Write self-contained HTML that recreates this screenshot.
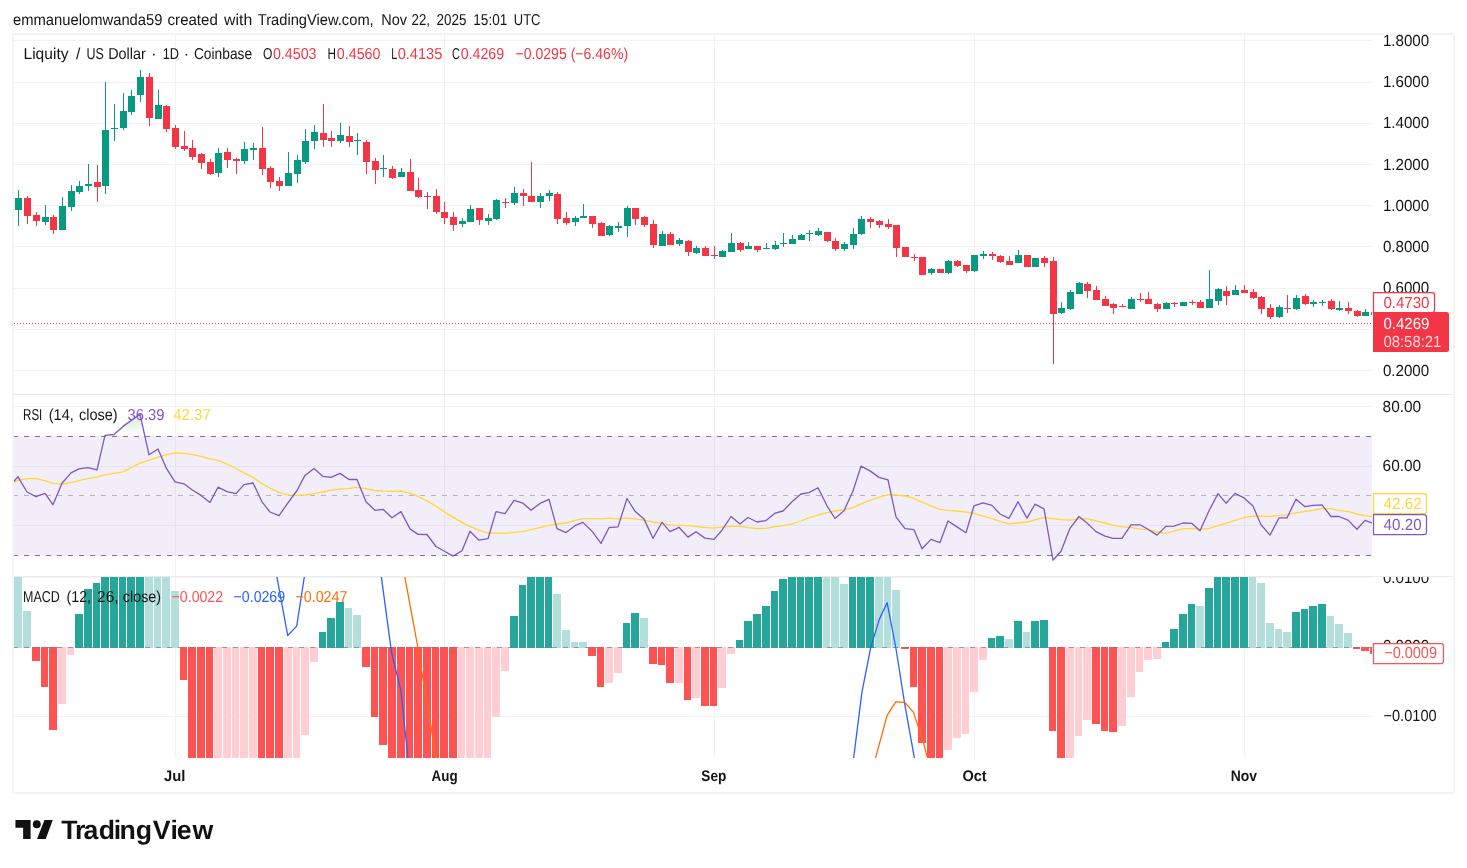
<!DOCTYPE html>
<html><head><meta charset="utf-8"><title>LQTYUSD chart</title>
<style>html,body{margin:0;padding:0;background:#fff}body{width:1467px;height:868px;overflow:hidden;font-family:"Liberation Sans",sans-serif}svg{display:block;position:absolute;left:0;top:0;will-change:transform}text{font-family:"Liberation Sans",sans-serif;text-rendering:geometricPrecision}</style></head><body>
<svg width="1467" height="868" viewBox="0 0 1467 868">
<defs>
<clipPath id="cpMain"><rect x="14" y="34" width="1358" height="360"/></clipPath>
<clipPath id="cpRsi"><rect x="14" y="395" width="1358" height="181"/></clipPath>
<clipPath id="cpMacd"><rect x="14" y="577" width="1358" height="181"/></clipPath>
<clipPath id="cpOB"><rect x="14" y="395" width="1358" height="41"/></clipPath>
<clipPath id="cpAxM"><rect x="1373" y="577" width="81" height="181"/></clipPath>
<linearGradient id="gOB" gradientUnits="userSpaceOnUse" x1="0" y1="346.7" x2="0" y2="436"><stop offset="0" stop-color="#4caf50" stop-opacity="1"/><stop offset="1" stop-color="#4caf50" stop-opacity="0"/></linearGradient>
</defs>
<rect x="0" y="0" width="1467" height="868" fill="#fff"/>
<g shape-rendering="crispEdges" fill="#f2f2f3">
<rect x="175" y="34" width="1" height="724"/>
<rect x="444" y="34" width="1" height="724"/>
<rect x="714" y="34" width="1" height="724"/>
<rect x="974" y="34" width="1" height="724"/>
<rect x="1244" y="34" width="1" height="724"/>
<rect x="14" y="40" width="1358" height="1"/>
<rect x="14" y="82" width="1358" height="1"/>
<rect x="14" y="123" width="1358" height="1"/>
<rect x="14" y="164" width="1358" height="1"/>
<rect x="14" y="205" width="1358" height="1"/>
<rect x="14" y="246" width="1358" height="1"/>
<rect x="14" y="288" width="1358" height="1"/>
<rect x="14" y="329" width="1358" height="1"/>
<rect x="14" y="370" width="1358" height="1"/>
<rect x="14" y="406" width="1358" height="1"/>
<rect x="14" y="466" width="1358" height="1"/>
<rect x="14" y="525" width="1358" height="1"/>
<rect x="14" y="577" width="1358" height="1"/>
<rect x="14" y="716" width="1358" height="1"/>
</g>
<rect x="14" y="436" width="1358" height="120" fill="#7e57c2" fill-opacity="0.1" shape-rendering="crispEdges"/>
<g fill="none" stroke-width="1" shape-rendering="crispEdges">
<line x1="14" y1="436.5" x2="1372" y2="436.5" stroke="#787b86" stroke-dasharray="5 6" stroke-dashoffset="1"/>
<line x1="14" y1="495.5" x2="1372" y2="495.5" stroke="#787b86" stroke-opacity="0.5" stroke-dasharray="5 6" stroke-dashoffset="1"/>
<line x1="14" y1="555.5" x2="1372" y2="555.5" stroke="#787b86" stroke-dasharray="5 6" stroke-dashoffset="1"/>
</g>
<g clip-path="url(#cpOB)"><polygon points="14.0,481.3 18.0,476.8 27.0,492.0 36.0,496.6 45.0,493.4 53.0,504.8 62.0,483.2 71.0,472.9 79.0,468.9 88.0,467.6 97.0,469.9 105.0,435.3 114.0,434.5 123.0,426.4 131.0,420.6 140.0,414.1 149.0,454.8 158.0,449.0 166.0,467.6 175.0,481.9 184.0,483.8 192.0,489.7 201.0,495.4 210.0,502.4 218.0,487.2 227.0,491.7 236.0,493.6 244.0,484.6 253.0,483.0 262.0,501.8 270.0,512.0 279.0,515.6 288.0,502.8 297.0,490.5 305.0,475.4 314.0,468.5 323.0,476.4 331.0,477.4 340.0,473.4 349.0,479.5 357.0,479.5 366.0,501.8 375.0,510.3 383.0,509.3 392.0,517.7 401.0,511.6 410.0,528.9 418.0,534.4 427.0,534.5 436.0,546.5 444.0,551.0 453.0,556.1 462.0,550.8 470.0,531.2 479.0,540.2 488.0,538.7 496.0,511.6 505.0,513.6 514.0,500.3 523.0,503.2 531.0,510.3 540.0,503.4 549.0,499.3 557.0,528.7 566.0,532.6 575.0,525.7 583.0,522.4 592.0,531.2 601.0,543.4 609.0,527.7 618.0,526.9 627.0,498.5 635.0,511.2 644.0,519.1 653.0,538.3 662.0,522.4 670.0,531.6 679.0,527.3 688.0,537.1 696.0,531.8 705.0,538.1 714.0,539.4 722.0,530.2 731.0,516.5 740.0,524.0 748.0,517.5 757.0,522.0 766.0,520.6 775.0,513.2 783.0,511.0 792.0,501.8 801.0,494.0 809.0,492.6 818.0,487.7 827.0,505.8 835.0,518.5 844.0,510.7 853.0,491.1 861.0,466.2 870.0,470.9 879.0,477.4 888.0,479.9 896.0,516.9 905.0,528.7 914.0,529.7 922.0,548.8 931.0,539.4 940.0,542.6 948.0,521.0 957.0,526.9 966.0,532.8 974.0,505.8 983.0,502.8 992.0,505.4 1000.0,514.0 1009.0,518.3 1018.0,501.8 1027.0,518.1 1035.0,504.2 1044.0,508.9 1053.0,560.2 1061.0,551.2 1070.0,528.3 1079.0,516.5 1087.0,523.0 1096.0,531.6 1105.0,536.1 1113.0,538.3 1122.0,538.3 1131.0,524.8 1140.0,524.8 1148.0,529.3 1157.0,535.1 1166.0,526.3 1174.0,526.1 1183.0,523.0 1192.0,523.4 1200.0,530.8 1209.0,510.8 1218.0,493.6 1226.0,503.2 1235.0,493.4 1244.0,497.9 1253.0,506.1 1261.0,524.8 1270.0,535.1 1279.0,517.9 1287.0,517.9 1296.0,499.3 1305.0,506.7 1313.0,505.4 1322.0,504.8 1331.0,516.5 1339.0,516.5 1348.0,520.1 1357.0,529.3 1365.0,520.4 1372.0,523.0 1372,436 14,436" fill="url(#gOB)"/></g>
<g clip-path="url(#cpRsi)" fill="none" stroke-linejoin="round" stroke-linecap="round">
<polyline points="14.0,482.6 18.0,480.3 27.0,478.7 36.0,478.7 45.0,480.7 53.0,483.4 62.0,484.2 71.0,482.6 79.0,480.7 88.0,478.7 97.0,476.8 105.0,474.8 114.0,473.4 123.0,471.9 131.0,467.6 140.0,463.1 149.0,460.3 158.0,457.2 166.0,454.8 175.0,452.9 184.0,453.3 192.0,454.4 201.0,456.4 210.0,458.8 218.0,460.3 227.0,464.2 236.0,468.5 244.0,472.9 253.0,477.4 262.0,483.8 270.0,488.1 279.0,492.4 288.0,494.8 297.0,495.4 305.0,495.0 314.0,493.6 323.0,492.0 331.0,490.1 340.0,489.1 349.0,488.3 357.0,487.3 366.0,488.7 375.0,490.5 383.0,491.1 392.0,491.3 401.0,491.1 410.0,493.2 418.0,496.4 427.0,500.9 436.0,506.3 444.0,511.6 453.0,517.1 462.0,522.4 470.0,526.3 479.0,530.2 488.0,533.0 496.0,533.2 505.0,533.4 514.0,532.4 523.0,531.6 531.0,529.7 540.0,527.7 549.0,525.3 557.0,524.0 566.0,522.8 575.0,520.4 583.0,518.7 592.0,518.7 601.0,518.9 609.0,518.1 618.0,518.9 627.0,518.1 635.0,518.9 644.0,520.1 653.0,522.0 662.0,523.2 670.0,525.1 679.0,525.3 688.0,525.7 696.0,526.3 705.0,527.5 714.0,528.1 722.0,527.1 731.0,526.3 740.0,526.3 748.0,527.7 757.0,528.5 766.0,528.3 775.0,526.7 783.0,525.7 792.0,523.8 801.0,521.0 809.0,517.9 818.0,515.0 827.0,512.6 835.0,511.0 844.0,509.7 853.0,507.7 861.0,503.8 870.0,500.3 879.0,497.3 888.0,494.6 896.0,494.8 905.0,496.0 914.0,498.3 922.0,502.2 931.0,505.8 940.0,509.3 948.0,510.3 957.0,511.0 966.0,512.2 974.0,513.4 983.0,516.1 992.0,518.7 1000.0,521.4 1009.0,523.8 1018.0,523.0 1027.0,522.0 1035.0,519.9 1044.0,517.5 1053.0,518.7 1061.0,519.7 1070.0,520.1 1079.0,518.9 1087.0,518.7 1096.0,520.8 1105.0,523.0 1113.0,525.1 1122.0,526.9 1131.0,527.3 1140.0,529.1 1148.0,529.7 1157.0,532.0 1166.0,533.4 1174.0,531.0 1183.0,528.9 1192.0,528.3 1200.0,529.3 1209.0,528.5 1218.0,525.7 1226.0,523.4 1235.0,520.4 1244.0,517.5 1253.0,516.1 1261.0,516.1 1270.0,516.5 1279.0,515.4 1287.0,514.8 1296.0,512.8 1305.0,511.4 1313.0,510.3 1322.0,508.3 1331.0,508.7 1339.0,510.3 1348.0,511.6 1357.0,514.0 1365.0,515.7 1372.0,516.7" stroke="#fdd835" stroke-width="1.3"/>
<polyline points="14.0,481.3 18.0,476.8 27.0,492.0 36.0,496.6 45.0,493.4 53.0,504.8 62.0,483.2 71.0,472.9 79.0,468.9 88.0,467.6 97.0,469.9 105.0,435.3 114.0,434.5 123.0,426.4 131.0,420.6 140.0,414.1 149.0,454.8 158.0,449.0 166.0,467.6 175.0,481.9 184.0,483.8 192.0,489.7 201.0,495.4 210.0,502.4 218.0,487.2 227.0,491.7 236.0,493.6 244.0,484.6 253.0,483.0 262.0,501.8 270.0,512.0 279.0,515.6 288.0,502.8 297.0,490.5 305.0,475.4 314.0,468.5 323.0,476.4 331.0,477.4 340.0,473.4 349.0,479.5 357.0,479.5 366.0,501.8 375.0,510.3 383.0,509.3 392.0,517.7 401.0,511.6 410.0,528.9 418.0,534.4 427.0,534.5 436.0,546.5 444.0,551.0 453.0,556.1 462.0,550.8 470.0,531.2 479.0,540.2 488.0,538.7 496.0,511.6 505.0,513.6 514.0,500.3 523.0,503.2 531.0,510.3 540.0,503.4 549.0,499.3 557.0,528.7 566.0,532.6 575.0,525.7 583.0,522.4 592.0,531.2 601.0,543.4 609.0,527.7 618.0,526.9 627.0,498.5 635.0,511.2 644.0,519.1 653.0,538.3 662.0,522.4 670.0,531.6 679.0,527.3 688.0,537.1 696.0,531.8 705.0,538.1 714.0,539.4 722.0,530.2 731.0,516.5 740.0,524.0 748.0,517.5 757.0,522.0 766.0,520.6 775.0,513.2 783.0,511.0 792.0,501.8 801.0,494.0 809.0,492.6 818.0,487.7 827.0,505.8 835.0,518.5 844.0,510.7 853.0,491.1 861.0,466.2 870.0,470.9 879.0,477.4 888.0,479.9 896.0,516.9 905.0,528.7 914.0,529.7 922.0,548.8 931.0,539.4 940.0,542.6 948.0,521.0 957.0,526.9 966.0,532.8 974.0,505.8 983.0,502.8 992.0,505.4 1000.0,514.0 1009.0,518.3 1018.0,501.8 1027.0,518.1 1035.0,504.2 1044.0,508.9 1053.0,560.2 1061.0,551.2 1070.0,528.3 1079.0,516.5 1087.0,523.0 1096.0,531.6 1105.0,536.1 1113.0,538.3 1122.0,538.3 1131.0,524.8 1140.0,524.8 1148.0,529.3 1157.0,535.1 1166.0,526.3 1174.0,526.1 1183.0,523.0 1192.0,523.4 1200.0,530.8 1209.0,510.8 1218.0,493.6 1226.0,503.2 1235.0,493.4 1244.0,497.9 1253.0,506.1 1261.0,524.8 1270.0,535.1 1279.0,517.9 1287.0,517.9 1296.0,499.3 1305.0,506.7 1313.0,505.4 1322.0,504.8 1331.0,516.5 1339.0,516.5 1348.0,520.1 1357.0,529.3 1365.0,520.4 1372.0,523.0" stroke="#7e57c2" stroke-width="1.3"/>
</g>
<g clip-path="url(#cpMacd)">
<g shape-rendering="crispEdges">
<rect x="14" y="576" width="8" height="72" fill="#b2dfdb"/>
<rect x="23" y="611" width="8" height="37" fill="#b2dfdb"/>
<rect x="32" y="647" width="8" height="14" fill="#ff5252"/>
<rect x="41" y="647" width="7" height="40" fill="#ff5252"/>
<rect x="49" y="647" width="8" height="83" fill="#ff5252"/>
<rect x="58" y="647" width="8" height="57" fill="#ffcdd2"/>
<rect x="67" y="647" width="7" height="8" fill="#ffcdd2"/>
<rect x="75" y="614" width="8" height="34" fill="#26a69a"/>
<rect x="84" y="589" width="8" height="59" fill="#26a69a"/>
<rect x="93" y="583" width="7" height="65" fill="#26a69a"/>
<rect x="101" y="576" width="8" height="72" fill="#26a69a"/>
<rect x="110" y="576" width="8" height="72" fill="#26a69a"/>
<rect x="119" y="576" width="7" height="72" fill="#26a69a"/>
<rect x="127" y="576" width="8" height="72" fill="#26a69a"/>
<rect x="136" y="576" width="8" height="72" fill="#26a69a"/>
<rect x="145" y="576" width="8" height="72" fill="#b2dfdb"/>
<rect x="154" y="576" width="7" height="72" fill="#b2dfdb"/>
<rect x="162" y="576" width="8" height="72" fill="#b2dfdb"/>
<rect x="171" y="591" width="8" height="57" fill="#b2dfdb"/>
<rect x="180" y="647" width="7" height="33" fill="#ff5252"/>
<rect x="188" y="647" width="8" height="111" fill="#ff5252"/>
<rect x="197" y="647" width="8" height="111" fill="#ff5252"/>
<rect x="206" y="647" width="7" height="111" fill="#ff5252"/>
<rect x="214" y="647" width="8" height="111" fill="#ffcdd2"/>
<rect x="223" y="647" width="8" height="111" fill="#ffcdd2"/>
<rect x="232" y="647" width="7" height="111" fill="#ffcdd2"/>
<rect x="240" y="647" width="8" height="111" fill="#ffcdd2"/>
<rect x="249" y="647" width="8" height="111" fill="#ffcdd2"/>
<rect x="258" y="647" width="7" height="111" fill="#ff5252"/>
<rect x="266" y="647" width="8" height="111" fill="#ff5252"/>
<rect x="275" y="647" width="8" height="111" fill="#ff5252"/>
<rect x="284" y="647" width="8" height="111" fill="#ffcdd2"/>
<rect x="293" y="647" width="7" height="111" fill="#ffcdd2"/>
<rect x="301" y="647" width="8" height="88" fill="#ffcdd2"/>
<rect x="310" y="647" width="8" height="15" fill="#ffcdd2"/>
<rect x="319" y="632" width="7" height="16" fill="#26a69a"/>
<rect x="327" y="618" width="8" height="30" fill="#26a69a"/>
<rect x="336" y="602" width="8" height="46" fill="#26a69a"/>
<rect x="345" y="608" width="7" height="40" fill="#b2dfdb"/>
<rect x="353" y="615" width="8" height="33" fill="#b2dfdb"/>
<rect x="362" y="647" width="8" height="20" fill="#ff5252"/>
<rect x="371" y="647" width="7" height="70" fill="#ff5252"/>
<rect x="379" y="647" width="8" height="98" fill="#ff5252"/>
<rect x="388" y="647" width="8" height="111" fill="#ff5252"/>
<rect x="397" y="647" width="8" height="111" fill="#ff5252"/>
<rect x="406" y="647" width="7" height="111" fill="#ff5252"/>
<rect x="414" y="647" width="8" height="111" fill="#ff5252"/>
<rect x="423" y="647" width="8" height="111" fill="#ff5252"/>
<rect x="432" y="647" width="7" height="111" fill="#ff5252"/>
<rect x="440" y="647" width="8" height="111" fill="#ff5252"/>
<rect x="449" y="647" width="8" height="111" fill="#ff5252"/>
<rect x="458" y="647" width="7" height="111" fill="#ffcdd2"/>
<rect x="466" y="647" width="8" height="111" fill="#ffcdd2"/>
<rect x="475" y="647" width="8" height="111" fill="#ffcdd2"/>
<rect x="484" y="647" width="7" height="111" fill="#ffcdd2"/>
<rect x="492" y="647" width="8" height="70" fill="#ffcdd2"/>
<rect x="501" y="647" width="8" height="24" fill="#ffcdd2"/>
<rect x="510" y="616" width="8" height="32" fill="#26a69a"/>
<rect x="519" y="585" width="7" height="63" fill="#26a69a"/>
<rect x="527" y="576" width="8" height="72" fill="#26a69a"/>
<rect x="536" y="576" width="8" height="72" fill="#26a69a"/>
<rect x="545" y="576" width="7" height="72" fill="#26a69a"/>
<rect x="553" y="594" width="8" height="54" fill="#b2dfdb"/>
<rect x="562" y="630" width="8" height="18" fill="#b2dfdb"/>
<rect x="571" y="642" width="7" height="6" fill="#b2dfdb"/>
<rect x="579" y="642" width="8" height="6" fill="#b2dfdb"/>
<rect x="588" y="647" width="8" height="9" fill="#ff5252"/>
<rect x="597" y="647" width="7" height="40" fill="#ff5252"/>
<rect x="605" y="647" width="8" height="36" fill="#ffcdd2"/>
<rect x="614" y="647" width="8" height="26" fill="#ffcdd2"/>
<rect x="623" y="623" width="7" height="25" fill="#26a69a"/>
<rect x="631" y="613" width="8" height="35" fill="#26a69a"/>
<rect x="640" y="618" width="8" height="30" fill="#b2dfdb"/>
<rect x="649" y="647" width="8" height="17" fill="#ff5252"/>
<rect x="658" y="647" width="7" height="18" fill="#ff5252"/>
<rect x="666" y="647" width="8" height="36" fill="#ff5252"/>
<rect x="675" y="647" width="8" height="36" fill="#ffcdd2"/>
<rect x="684" y="647" width="7" height="53" fill="#ff5252"/>
<rect x="692" y="647" width="8" height="51" fill="#ffcdd2"/>
<rect x="701" y="647" width="8" height="59" fill="#ff5252"/>
<rect x="710" y="647" width="7" height="59" fill="#ff5252"/>
<rect x="718" y="647" width="8" height="41" fill="#ffcdd2"/>
<rect x="727" y="647" width="8" height="7" fill="#ffcdd2"/>
<rect x="736" y="640" width="7" height="8" fill="#26a69a"/>
<rect x="744" y="621" width="8" height="27" fill="#26a69a"/>
<rect x="753" y="614" width="8" height="34" fill="#26a69a"/>
<rect x="762" y="606" width="8" height="42" fill="#26a69a"/>
<rect x="771" y="591" width="7" height="57" fill="#26a69a"/>
<rect x="779" y="579" width="8" height="69" fill="#26a69a"/>
<rect x="788" y="576" width="8" height="72" fill="#26a69a"/>
<rect x="797" y="576" width="7" height="72" fill="#26a69a"/>
<rect x="805" y="576" width="8" height="72" fill="#26a69a"/>
<rect x="814" y="576" width="8" height="72" fill="#26a69a"/>
<rect x="823" y="576" width="7" height="72" fill="#b2dfdb"/>
<rect x="831" y="576" width="8" height="72" fill="#b2dfdb"/>
<rect x="840" y="584" width="8" height="64" fill="#b2dfdb"/>
<rect x="849" y="576" width="7" height="72" fill="#26a69a"/>
<rect x="857" y="576" width="8" height="72" fill="#26a69a"/>
<rect x="866" y="576" width="8" height="72" fill="#26a69a"/>
<rect x="875" y="576" width="8" height="72" fill="#b2dfdb"/>
<rect x="884" y="576" width="7" height="72" fill="#b2dfdb"/>
<rect x="892" y="590" width="8" height="58" fill="#b2dfdb"/>
<rect x="901" y="647" width="8" height="2" fill="#ff5252"/>
<rect x="910" y="647" width="7" height="40" fill="#ff5252"/>
<rect x="918" y="647" width="8" height="96" fill="#ff5252"/>
<rect x="927" y="647" width="8" height="111" fill="#ff5252"/>
<rect x="936" y="647" width="7" height="111" fill="#ff5252"/>
<rect x="944" y="647" width="8" height="103" fill="#ffcdd2"/>
<rect x="953" y="647" width="8" height="91" fill="#ffcdd2"/>
<rect x="962" y="647" width="7" height="87" fill="#ffcdd2"/>
<rect x="970" y="647" width="8" height="45" fill="#ffcdd2"/>
<rect x="979" y="647" width="8" height="13" fill="#ffcdd2"/>
<rect x="988" y="638" width="7" height="10" fill="#26a69a"/>
<rect x="996" y="636" width="8" height="12" fill="#26a69a"/>
<rect x="1005" y="639" width="8" height="9" fill="#b2dfdb"/>
<rect x="1014" y="621" width="8" height="27" fill="#26a69a"/>
<rect x="1023" y="632" width="7" height="16" fill="#b2dfdb"/>
<rect x="1031" y="621" width="8" height="27" fill="#26a69a"/>
<rect x="1040" y="620" width="8" height="28" fill="#26a69a"/>
<rect x="1049" y="647" width="7" height="84" fill="#ff5252"/>
<rect x="1057" y="647" width="8" height="111" fill="#ff5252"/>
<rect x="1066" y="647" width="8" height="111" fill="#ffcdd2"/>
<rect x="1075" y="647" width="7" height="89" fill="#ffcdd2"/>
<rect x="1083" y="647" width="8" height="73" fill="#ffcdd2"/>
<rect x="1092" y="647" width="8" height="77" fill="#ff5252"/>
<rect x="1101" y="647" width="7" height="84" fill="#ff5252"/>
<rect x="1109" y="647" width="8" height="85" fill="#ff5252"/>
<rect x="1118" y="647" width="8" height="79" fill="#ffcdd2"/>
<rect x="1127" y="647" width="8" height="50" fill="#ffcdd2"/>
<rect x="1136" y="647" width="7" height="25" fill="#ffcdd2"/>
<rect x="1144" y="647" width="8" height="13" fill="#ffcdd2"/>
<rect x="1153" y="647" width="8" height="12" fill="#ffcdd2"/>
<rect x="1162" y="642" width="7" height="6" fill="#26a69a"/>
<rect x="1170" y="629" width="8" height="19" fill="#26a69a"/>
<rect x="1179" y="614" width="8" height="34" fill="#26a69a"/>
<rect x="1188" y="604" width="7" height="44" fill="#26a69a"/>
<rect x="1196" y="606" width="8" height="42" fill="#b2dfdb"/>
<rect x="1205" y="588" width="8" height="60" fill="#26a69a"/>
<rect x="1214" y="576" width="7" height="72" fill="#26a69a"/>
<rect x="1222" y="576" width="8" height="72" fill="#26a69a"/>
<rect x="1231" y="576" width="8" height="72" fill="#26a69a"/>
<rect x="1240" y="576" width="8" height="72" fill="#26a69a"/>
<rect x="1249" y="576" width="7" height="72" fill="#b2dfdb"/>
<rect x="1257" y="583" width="8" height="65" fill="#b2dfdb"/>
<rect x="1266" y="623" width="8" height="25" fill="#b2dfdb"/>
<rect x="1275" y="629" width="7" height="19" fill="#b2dfdb"/>
<rect x="1283" y="632" width="8" height="16" fill="#b2dfdb"/>
<rect x="1292" y="612" width="8" height="36" fill="#26a69a"/>
<rect x="1301" y="609" width="7" height="39" fill="#26a69a"/>
<rect x="1309" y="606" width="8" height="42" fill="#26a69a"/>
<rect x="1318" y="604" width="8" height="44" fill="#26a69a"/>
<rect x="1327" y="616" width="7" height="32" fill="#b2dfdb"/>
<rect x="1335" y="624" width="8" height="24" fill="#b2dfdb"/>
<rect x="1344" y="633" width="8" height="15" fill="#b2dfdb"/>
<rect x="1353" y="647" width="7" height="2" fill="#ff5252"/>
<rect x="1361" y="647" width="8" height="4" fill="#ff5252"/>
<rect x="1370" y="647" width="8" height="7" fill="#ff5252"/>
<line x1="14" y1="647.5" x2="1372" y2="647.5" stroke="#787b86" stroke-opacity="0.7" stroke-width="1" stroke-dasharray="5 6" stroke-dashoffset="1"/>
</g>
<g fill="none" stroke-width="1.3" stroke-linejoin="round">
<polyline points="270.7,529.3 276.8,576.4 287.7,635.5 296.7,626.1 304.4,576.4 305.5,568.7" stroke="#2962ff"/>
<polyline points="375.0,529.1 381.3,576.4 391.6,653.0 400.8,690.2 408.0,758.1 409.8,774.5" stroke="#2962ff"/>
<polyline points="852.0,771.3 853.6,758.1 861.9,692.4 870.7,647.5 879.4,619.1 887.1,602.7 895.8,647.5 904.6,703.4 914.4,758.1 916.6,770.2" stroke="#2962ff"/>
<polyline points="402.6,564.3 404.7,576.4 417.9,647.5 422.3,674.9 431.5,729.7 435.8,758.1 437.6,769.1" stroke="#ff6d00"/>
<polyline points="872.8,768.0 875.5,758.1 887.1,715.4 895.8,701.8 904.6,702.3 913.4,712.1 922.8,740.6 927.6,758.1 930.2,769.1" stroke="#ff6d00"/>
</g></g>
<g clip-path="url(#cpMain)" shape-rendering="crispEdges">
<rect x="18" y="190" width="1" height="36" fill="#089981"/>
<rect x="15" y="198" width="7" height="12" fill="#089981"/>
<rect x="27" y="196" width="1" height="28" fill="#f23645"/>
<rect x="24" y="198" width="7" height="18" fill="#f23645"/>
<rect x="36" y="212" width="1" height="14" fill="#f23645"/>
<rect x="33" y="215" width="7" height="6" fill="#f23645"/>
<rect x="45" y="205" width="1" height="20" fill="#089981"/>
<rect x="42" y="217" width="7" height="5" fill="#089981"/>
<rect x="53" y="215" width="1" height="19" fill="#f23645"/>
<rect x="50" y="217" width="7" height="13" fill="#f23645"/>
<rect x="62" y="197" width="1" height="33" fill="#089981"/>
<rect x="59" y="206" width="7" height="24" fill="#089981"/>
<rect x="71" y="185" width="1" height="26" fill="#089981"/>
<rect x="68" y="191" width="7" height="16" fill="#089981"/>
<rect x="79" y="181" width="1" height="13" fill="#089981"/>
<rect x="76" y="186" width="7" height="6" fill="#089981"/>
<rect x="88" y="164" width="1" height="27" fill="#089981"/>
<rect x="85" y="184" width="7" height="2" fill="#089981"/>
<rect x="97" y="165" width="1" height="37" fill="#f23645"/>
<rect x="94" y="182" width="7" height="5" fill="#f23645"/>
<rect x="105" y="82" width="1" height="112" fill="#089981"/>
<rect x="102" y="130" width="7" height="56" fill="#089981"/>
<rect x="114" y="104" width="1" height="37" fill="#089981"/>
<rect x="111" y="128" width="7" height="1" fill="#089981"/>
<rect x="123" y="93" width="1" height="37" fill="#089981"/>
<rect x="120" y="111" width="7" height="17" fill="#089981"/>
<rect x="131" y="90" width="1" height="25" fill="#089981"/>
<rect x="128" y="96" width="7" height="16" fill="#089981"/>
<rect x="140" y="70" width="1" height="32" fill="#089981"/>
<rect x="137" y="77" width="7" height="18" fill="#089981"/>
<rect x="149" y="73" width="1" height="53" fill="#f23645"/>
<rect x="146" y="77" width="7" height="41" fill="#f23645"/>
<rect x="158" y="90" width="1" height="29" fill="#089981"/>
<rect x="155" y="105" width="7" height="14" fill="#089981"/>
<rect x="166" y="105" width="1" height="27" fill="#f23645"/>
<rect x="163" y="106" width="7" height="23" fill="#f23645"/>
<rect x="175" y="125" width="1" height="24" fill="#f23645"/>
<rect x="172" y="128" width="7" height="19" fill="#f23645"/>
<rect x="184" y="131" width="1" height="20" fill="#f23645"/>
<rect x="181" y="146" width="7" height="3" fill="#f23645"/>
<rect x="192" y="140" width="1" height="20" fill="#f23645"/>
<rect x="189" y="148" width="7" height="9" fill="#f23645"/>
<rect x="201" y="153" width="1" height="16" fill="#f23645"/>
<rect x="198" y="154" width="7" height="9" fill="#f23645"/>
<rect x="210" y="159" width="1" height="16" fill="#f23645"/>
<rect x="207" y="162" width="7" height="12" fill="#f23645"/>
<rect x="218" y="148" width="1" height="29" fill="#089981"/>
<rect x="215" y="153" width="7" height="20" fill="#089981"/>
<rect x="227" y="148" width="1" height="20" fill="#f23645"/>
<rect x="224" y="152" width="7" height="8" fill="#f23645"/>
<rect x="236" y="158" width="1" height="16" fill="#f23645"/>
<rect x="233" y="159" width="7" height="2" fill="#f23645"/>
<rect x="244" y="142" width="1" height="22" fill="#089981"/>
<rect x="241" y="149" width="7" height="12" fill="#089981"/>
<rect x="253" y="143" width="1" height="17" fill="#089981"/>
<rect x="250" y="148" width="7" height="2" fill="#089981"/>
<rect x="262" y="127" width="1" height="48" fill="#f23645"/>
<rect x="259" y="148" width="7" height="21" fill="#f23645"/>
<rect x="270" y="166" width="1" height="22" fill="#f23645"/>
<rect x="267" y="168" width="7" height="14" fill="#f23645"/>
<rect x="279" y="177" width="1" height="14" fill="#f23645"/>
<rect x="276" y="181" width="7" height="5" fill="#f23645"/>
<rect x="288" y="152" width="1" height="34" fill="#089981"/>
<rect x="285" y="173" width="7" height="13" fill="#089981"/>
<rect x="297" y="155" width="1" height="28" fill="#089981"/>
<rect x="294" y="160" width="7" height="14" fill="#089981"/>
<rect x="305" y="129" width="1" height="35" fill="#089981"/>
<rect x="302" y="141" width="7" height="21" fill="#089981"/>
<rect x="314" y="125" width="1" height="24" fill="#089981"/>
<rect x="311" y="132" width="7" height="9" fill="#089981"/>
<rect x="323" y="104" width="1" height="43" fill="#f23645"/>
<rect x="320" y="133" width="7" height="7" fill="#f23645"/>
<rect x="331" y="131" width="1" height="16" fill="#f23645"/>
<rect x="328" y="138" width="7" height="3" fill="#f23645"/>
<rect x="340" y="123" width="1" height="20" fill="#089981"/>
<rect x="337" y="135" width="7" height="6" fill="#089981"/>
<rect x="349" y="126" width="1" height="21" fill="#f23645"/>
<rect x="346" y="136" width="7" height="6" fill="#f23645"/>
<rect x="357" y="133" width="1" height="22" fill="#089981"/>
<rect x="354" y="140" width="7" height="1" fill="#089981"/>
<rect x="366" y="140" width="1" height="34" fill="#f23645"/>
<rect x="363" y="142" width="7" height="20" fill="#f23645"/>
<rect x="375" y="158" width="1" height="26" fill="#f23645"/>
<rect x="372" y="161" width="7" height="9" fill="#f23645"/>
<rect x="383" y="155" width="1" height="22" fill="#089981"/>
<rect x="380" y="168" width="7" height="1" fill="#089981"/>
<rect x="392" y="166" width="1" height="13" fill="#f23645"/>
<rect x="389" y="169" width="7" height="9" fill="#f23645"/>
<rect x="401" y="168" width="1" height="9" fill="#089981"/>
<rect x="398" y="172" width="7" height="5" fill="#089981"/>
<rect x="410" y="159" width="1" height="32" fill="#f23645"/>
<rect x="407" y="172" width="7" height="19" fill="#f23645"/>
<rect x="418" y="178" width="1" height="20" fill="#f23645"/>
<rect x="415" y="190" width="7" height="7" fill="#f23645"/>
<rect x="427" y="192" width="1" height="17" fill="#f23645"/>
<rect x="424" y="196" width="7" height="1" fill="#f23645"/>
<rect x="436" y="189" width="1" height="25" fill="#f23645"/>
<rect x="433" y="196" width="7" height="16" fill="#f23645"/>
<rect x="444" y="202" width="1" height="22" fill="#f23645"/>
<rect x="441" y="212" width="7" height="6" fill="#f23645"/>
<rect x="453" y="212" width="1" height="19" fill="#f23645"/>
<rect x="450" y="217" width="7" height="8" fill="#f23645"/>
<rect x="462" y="218" width="1" height="9" fill="#089981"/>
<rect x="459" y="221" width="7" height="3" fill="#089981"/>
<rect x="470" y="205" width="1" height="17" fill="#089981"/>
<rect x="467" y="209" width="7" height="13" fill="#089981"/>
<rect x="479" y="208" width="1" height="17" fill="#f23645"/>
<rect x="476" y="208" width="7" height="12" fill="#f23645"/>
<rect x="488" y="214" width="1" height="11" fill="#089981"/>
<rect x="485" y="218" width="7" height="3" fill="#089981"/>
<rect x="496" y="199" width="1" height="21" fill="#089981"/>
<rect x="493" y="200" width="7" height="19" fill="#089981"/>
<rect x="505" y="198" width="1" height="10" fill="#f23645"/>
<rect x="502" y="202" width="7" height="1" fill="#f23645"/>
<rect x="514" y="187" width="1" height="18" fill="#089981"/>
<rect x="511" y="193" width="7" height="10" fill="#089981"/>
<rect x="523" y="189" width="1" height="17" fill="#f23645"/>
<rect x="520" y="193" width="7" height="3" fill="#f23645"/>
<rect x="531" y="162" width="1" height="40" fill="#f23645"/>
<rect x="528" y="196" width="7" height="6" fill="#f23645"/>
<rect x="540" y="193" width="1" height="15" fill="#089981"/>
<rect x="537" y="196" width="7" height="6" fill="#089981"/>
<rect x="549" y="190" width="1" height="11" fill="#089981"/>
<rect x="546" y="193" width="7" height="3" fill="#089981"/>
<rect x="557" y="192" width="1" height="32" fill="#f23645"/>
<rect x="554" y="194" width="7" height="25" fill="#f23645"/>
<rect x="566" y="212" width="1" height="13" fill="#f23645"/>
<rect x="563" y="218" width="7" height="5" fill="#f23645"/>
<rect x="575" y="216" width="1" height="10" fill="#089981"/>
<rect x="572" y="218" width="7" height="4" fill="#089981"/>
<rect x="583" y="204" width="1" height="14" fill="#089981"/>
<rect x="580" y="216" width="7" height="2" fill="#089981"/>
<rect x="592" y="216" width="1" height="12" fill="#f23645"/>
<rect x="589" y="216" width="7" height="8" fill="#f23645"/>
<rect x="601" y="222" width="1" height="14" fill="#f23645"/>
<rect x="598" y="223" width="7" height="13" fill="#f23645"/>
<rect x="609" y="225" width="1" height="11" fill="#089981"/>
<rect x="606" y="226" width="7" height="9" fill="#089981"/>
<rect x="618" y="222" width="1" height="10" fill="#089981"/>
<rect x="615" y="226" width="7" height="2" fill="#089981"/>
<rect x="627" y="206" width="1" height="31" fill="#089981"/>
<rect x="624" y="208" width="7" height="18" fill="#089981"/>
<rect x="635" y="208" width="1" height="17" fill="#f23645"/>
<rect x="632" y="208" width="7" height="11" fill="#f23645"/>
<rect x="644" y="216" width="1" height="11" fill="#f23645"/>
<rect x="641" y="217" width="7" height="8" fill="#f23645"/>
<rect x="653" y="220" width="1" height="28" fill="#f23645"/>
<rect x="650" y="224" width="7" height="21" fill="#f23645"/>
<rect x="662" y="231" width="1" height="15" fill="#089981"/>
<rect x="659" y="234" width="7" height="12" fill="#089981"/>
<rect x="670" y="232" width="1" height="13" fill="#f23645"/>
<rect x="667" y="234" width="7" height="11" fill="#f23645"/>
<rect x="679" y="238" width="1" height="8" fill="#089981"/>
<rect x="676" y="240" width="7" height="4" fill="#089981"/>
<rect x="688" y="240" width="1" height="16" fill="#f23645"/>
<rect x="685" y="241" width="7" height="11" fill="#f23645"/>
<rect x="696" y="246" width="1" height="8" fill="#089981"/>
<rect x="693" y="248" width="7" height="5" fill="#089981"/>
<rect x="705" y="246" width="1" height="10" fill="#f23645"/>
<rect x="702" y="248" width="7" height="8" fill="#f23645"/>
<rect x="714" y="246" width="1" height="13" fill="#f23645"/>
<rect x="711" y="255" width="7" height="1" fill="#f23645"/>
<rect x="722" y="250" width="1" height="7" fill="#089981"/>
<rect x="719" y="251" width="7" height="6" fill="#089981"/>
<rect x="731" y="233" width="1" height="19" fill="#089981"/>
<rect x="728" y="243" width="7" height="9" fill="#089981"/>
<rect x="740" y="242" width="1" height="10" fill="#f23645"/>
<rect x="737" y="243" width="7" height="7" fill="#f23645"/>
<rect x="748" y="242" width="1" height="7" fill="#089981"/>
<rect x="745" y="246" width="7" height="3" fill="#089981"/>
<rect x="757" y="246" width="1" height="6" fill="#f23645"/>
<rect x="754" y="246" width="7" height="4" fill="#f23645"/>
<rect x="766" y="243" width="1" height="6" fill="#089981"/>
<rect x="763" y="248" width="7" height="1" fill="#089981"/>
<rect x="775" y="241" width="1" height="9" fill="#089981"/>
<rect x="772" y="245" width="7" height="4" fill="#089981"/>
<rect x="783" y="233" width="1" height="14" fill="#089981"/>
<rect x="780" y="243" width="7" height="1" fill="#089981"/>
<rect x="792" y="235" width="1" height="9" fill="#089981"/>
<rect x="789" y="239" width="7" height="5" fill="#089981"/>
<rect x="801" y="234" width="1" height="6" fill="#089981"/>
<rect x="798" y="235" width="7" height="5" fill="#089981"/>
<rect x="809" y="230" width="1" height="11" fill="#089981"/>
<rect x="806" y="233" width="7" height="1" fill="#089981"/>
<rect x="818" y="228" width="1" height="8" fill="#089981"/>
<rect x="815" y="231" width="7" height="4" fill="#089981"/>
<rect x="827" y="232" width="1" height="10" fill="#f23645"/>
<rect x="824" y="232" width="7" height="9" fill="#f23645"/>
<rect x="835" y="238" width="1" height="13" fill="#f23645"/>
<rect x="832" y="241" width="7" height="8" fill="#f23645"/>
<rect x="844" y="242" width="1" height="9" fill="#089981"/>
<rect x="841" y="244" width="7" height="5" fill="#089981"/>
<rect x="853" y="228" width="1" height="21" fill="#089981"/>
<rect x="850" y="234" width="7" height="11" fill="#089981"/>
<rect x="861" y="216" width="1" height="19" fill="#089981"/>
<rect x="858" y="219" width="7" height="15" fill="#089981"/>
<rect x="870" y="217" width="1" height="11" fill="#f23645"/>
<rect x="867" y="219" width="7" height="3" fill="#f23645"/>
<rect x="879" y="220" width="1" height="8" fill="#f23645"/>
<rect x="876" y="221" width="7" height="4" fill="#f23645"/>
<rect x="888" y="219" width="1" height="10" fill="#f23645"/>
<rect x="885" y="224" width="7" height="3" fill="#f23645"/>
<rect x="896" y="225" width="1" height="32" fill="#f23645"/>
<rect x="893" y="225" width="7" height="23" fill="#f23645"/>
<rect x="905" y="247" width="1" height="10" fill="#f23645"/>
<rect x="902" y="247" width="7" height="10" fill="#f23645"/>
<rect x="914" y="254" width="1" height="7" fill="#f23645"/>
<rect x="911" y="257" width="7" height="1" fill="#f23645"/>
<rect x="922" y="257" width="1" height="18" fill="#f23645"/>
<rect x="919" y="257" width="7" height="18" fill="#f23645"/>
<rect x="931" y="268" width="1" height="7" fill="#089981"/>
<rect x="928" y="269" width="7" height="4" fill="#089981"/>
<rect x="940" y="269" width="1" height="4" fill="#f23645"/>
<rect x="937" y="269" width="7" height="4" fill="#f23645"/>
<rect x="948" y="260" width="1" height="14" fill="#089981"/>
<rect x="945" y="261" width="7" height="12" fill="#089981"/>
<rect x="957" y="260" width="1" height="7" fill="#f23645"/>
<rect x="954" y="261" width="7" height="5" fill="#f23645"/>
<rect x="966" y="265" width="1" height="8" fill="#f23645"/>
<rect x="963" y="265" width="7" height="6" fill="#f23645"/>
<rect x="974" y="255" width="1" height="17" fill="#089981"/>
<rect x="971" y="255" width="7" height="16" fill="#089981"/>
<rect x="983" y="251" width="1" height="8" fill="#089981"/>
<rect x="980" y="254" width="7" height="2" fill="#089981"/>
<rect x="992" y="252" width="1" height="8" fill="#f23645"/>
<rect x="989" y="254" width="7" height="2" fill="#f23645"/>
<rect x="1000" y="255" width="1" height="8" fill="#f23645"/>
<rect x="997" y="256" width="7" height="6" fill="#f23645"/>
<rect x="1009" y="256" width="1" height="9" fill="#f23645"/>
<rect x="1006" y="261" width="7" height="4" fill="#f23645"/>
<rect x="1018" y="250" width="1" height="13" fill="#089981"/>
<rect x="1015" y="255" width="7" height="8" fill="#089981"/>
<rect x="1027" y="255" width="1" height="12" fill="#f23645"/>
<rect x="1024" y="255" width="7" height="12" fill="#f23645"/>
<rect x="1035" y="258" width="1" height="9" fill="#089981"/>
<rect x="1032" y="258" width="7" height="9" fill="#089981"/>
<rect x="1044" y="256" width="1" height="11" fill="#f23645"/>
<rect x="1041" y="258" width="7" height="5" fill="#f23645"/>
<rect x="1053" y="257" width="1" height="107" fill="#f23645"/>
<rect x="1050" y="261" width="7" height="53" fill="#f23645"/>
<rect x="1061" y="302" width="1" height="12" fill="#089981"/>
<rect x="1058" y="308" width="7" height="5" fill="#089981"/>
<rect x="1070" y="290" width="1" height="20" fill="#089981"/>
<rect x="1067" y="292" width="7" height="17" fill="#089981"/>
<rect x="1079" y="282" width="1" height="12" fill="#089981"/>
<rect x="1076" y="283" width="7" height="11" fill="#089981"/>
<rect x="1087" y="282" width="1" height="16" fill="#f23645"/>
<rect x="1084" y="284" width="7" height="7" fill="#f23645"/>
<rect x="1096" y="286" width="1" height="14" fill="#f23645"/>
<rect x="1093" y="290" width="7" height="10" fill="#f23645"/>
<rect x="1105" y="296" width="1" height="10" fill="#f23645"/>
<rect x="1102" y="299" width="7" height="7" fill="#f23645"/>
<rect x="1113" y="303" width="1" height="11" fill="#f23645"/>
<rect x="1110" y="304" width="7" height="4" fill="#f23645"/>
<rect x="1122" y="304" width="1" height="3" fill="#f23645"/>
<rect x="1119" y="306" width="7" height="1" fill="#f23645"/>
<rect x="1131" y="297" width="1" height="12" fill="#089981"/>
<rect x="1128" y="299" width="7" height="10" fill="#089981"/>
<rect x="1140" y="293" width="1" height="9" fill="#f23645"/>
<rect x="1137" y="299" width="7" height="1" fill="#f23645"/>
<rect x="1148" y="292" width="1" height="12" fill="#f23645"/>
<rect x="1145" y="299" width="7" height="5" fill="#f23645"/>
<rect x="1157" y="303" width="1" height="9" fill="#f23645"/>
<rect x="1154" y="304" width="7" height="5" fill="#f23645"/>
<rect x="1166" y="302" width="1" height="7" fill="#089981"/>
<rect x="1163" y="303" width="7" height="6" fill="#089981"/>
<rect x="1174" y="302" width="1" height="5" fill="#f23645"/>
<rect x="1171" y="303" width="7" height="1" fill="#f23645"/>
<rect x="1183" y="302" width="1" height="4" fill="#089981"/>
<rect x="1180" y="302" width="7" height="4" fill="#089981"/>
<rect x="1192" y="300" width="1" height="5" fill="#f23645"/>
<rect x="1189" y="302" width="7" height="1" fill="#f23645"/>
<rect x="1200" y="300" width="1" height="8" fill="#f23645"/>
<rect x="1197" y="302" width="7" height="6" fill="#f23645"/>
<rect x="1209" y="270" width="1" height="38" fill="#089981"/>
<rect x="1206" y="299" width="7" height="9" fill="#089981"/>
<rect x="1218" y="288" width="1" height="17" fill="#089981"/>
<rect x="1215" y="289" width="7" height="12" fill="#089981"/>
<rect x="1226" y="286" width="1" height="19" fill="#f23645"/>
<rect x="1223" y="291" width="7" height="5" fill="#f23645"/>
<rect x="1235" y="285" width="1" height="10" fill="#089981"/>
<rect x="1232" y="290" width="7" height="5" fill="#089981"/>
<rect x="1244" y="285" width="1" height="8" fill="#f23645"/>
<rect x="1241" y="290" width="7" height="3" fill="#f23645"/>
<rect x="1253" y="289" width="1" height="10" fill="#f23645"/>
<rect x="1250" y="292" width="7" height="6" fill="#f23645"/>
<rect x="1261" y="296" width="1" height="18" fill="#f23645"/>
<rect x="1258" y="297" width="7" height="12" fill="#f23645"/>
<rect x="1270" y="304" width="1" height="15" fill="#f23645"/>
<rect x="1267" y="308" width="7" height="9" fill="#f23645"/>
<rect x="1279" y="305" width="1" height="13" fill="#089981"/>
<rect x="1276" y="307" width="7" height="10" fill="#089981"/>
<rect x="1287" y="295" width="1" height="18" fill="#f23645"/>
<rect x="1284" y="308" width="7" height="1" fill="#f23645"/>
<rect x="1296" y="295" width="1" height="15" fill="#089981"/>
<rect x="1293" y="298" width="7" height="11" fill="#089981"/>
<rect x="1305" y="294" width="1" height="11" fill="#f23645"/>
<rect x="1302" y="296" width="7" height="8" fill="#f23645"/>
<rect x="1313" y="300" width="1" height="7" fill="#089981"/>
<rect x="1310" y="302" width="7" height="2" fill="#089981"/>
<rect x="1322" y="300" width="1" height="6" fill="#089981"/>
<rect x="1319" y="302" width="7" height="1" fill="#089981"/>
<rect x="1331" y="299" width="1" height="11" fill="#f23645"/>
<rect x="1328" y="301" width="7" height="8" fill="#f23645"/>
<rect x="1339" y="301" width="1" height="10" fill="#089981"/>
<rect x="1336" y="308" width="7" height="2" fill="#089981"/>
<rect x="1348" y="302" width="1" height="12" fill="#f23645"/>
<rect x="1345" y="308" width="7" height="3" fill="#f23645"/>
<rect x="1357" y="310" width="1" height="7" fill="#f23645"/>
<rect x="1354" y="311" width="7" height="5" fill="#f23645"/>
<rect x="1365" y="309" width="1" height="7" fill="#089981"/>
<rect x="1362" y="312" width="7" height="4" fill="#089981"/>
<rect x="1374" y="312" width="1" height="3" fill="#f23645"/>
<rect x="1371" y="312" width="7" height="3" fill="#f23645"/>
</g>
<line x1="14" y1="323.5" x2="1372" y2="323.5" stroke="#f23645" stroke-width="1" stroke-dasharray="1 2" shape-rendering="crispEdges"/>
<g shape-rendering="crispEdges">
<rect x="14" y="394" width="1439" height="1" fill="#ebebec"/>
<rect x="14" y="576" width="1439" height="1" fill="#ebebec"/>
<rect x="13" y="34" width="1441" height="759" fill="none" stroke="#f4f4f4" stroke-width="2"/>
</g>
<text x="13.0" y="24.7" font-size="15.8" fill="#151515" textLength="149.5" lengthAdjust="spacingAndGlyphs" text-anchor="start">emmanuelomwanda59</text>
<text x="167.6" y="24.7" font-size="15.8" fill="#151515" textLength="50.2" lengthAdjust="spacingAndGlyphs" text-anchor="start">created</text>
<text x="224.1" y="24.7" font-size="15.8" fill="#151515" textLength="28.1" lengthAdjust="spacingAndGlyphs" text-anchor="start">with</text>
<text x="257.8" y="24.7" font-size="15.8" fill="#151515" textLength="115.9" lengthAdjust="spacingAndGlyphs" text-anchor="start">TradingView.com,</text>
<text x="381.3" y="24.7" font-size="15.8" fill="#151515" textLength="25.8" lengthAdjust="spacingAndGlyphs" text-anchor="start">Nov</text>
<text x="411.6" y="24.7" font-size="15.8" fill="#151515" textLength="18.4" lengthAdjust="spacingAndGlyphs" text-anchor="start">22,</text>
<text x="436.5" y="24.7" font-size="15.8" fill="#151515" textLength="29.9" lengthAdjust="spacingAndGlyphs" text-anchor="start">2025</text>
<text x="473.3" y="24.7" font-size="15.8" fill="#151515" textLength="34.0" lengthAdjust="spacingAndGlyphs" text-anchor="start">15:01</text>
<text x="513.8" y="24.7" font-size="15.8" fill="#151515" textLength="26.6" lengthAdjust="spacingAndGlyphs" text-anchor="start">UTC</text>
<text x="23.5" y="59.0" font-size="15.8" fill="#151515" textLength="45.0" lengthAdjust="spacingAndGlyphs" text-anchor="start">Liquity</text>
<text x="86.4" y="59.0" font-size="15.8" fill="#151515" textLength="17.4" lengthAdjust="spacingAndGlyphs" text-anchor="start">US</text>
<text x="108.2" y="59.0" font-size="15.8" fill="#151515" textLength="37.5" lengthAdjust="spacingAndGlyphs" text-anchor="start">Dollar</text>
<text x="162.7" y="59.0" font-size="15.8" fill="#151515" textLength="16.3" lengthAdjust="spacingAndGlyphs" text-anchor="start">1D</text>
<text x="193.9" y="59.0" font-size="15.8" fill="#151515" textLength="58.2" lengthAdjust="spacingAndGlyphs" text-anchor="start">Coinbase</text>
<text x="78.1" y="59.0" font-size="15.8" fill="#151515" text-anchor="middle">/</text>
<text x="154.0" y="59.0" font-size="15.8" fill="#151515" text-anchor="middle">·</text>
<text x="186.3" y="59.0" font-size="15.8" fill="#151515" text-anchor="middle">·</text>
<text x="263.0" y="59.0" font-size="15.8" fill="#151515" textLength="9.4" lengthAdjust="spacingAndGlyphs" text-anchor="start">O</text>
<text x="272.9" y="59.0" font-size="15.8" fill="#f23645" textLength="43.6" lengthAdjust="spacingAndGlyphs" text-anchor="start">0.4503</text>
<text x="327.5" y="59.0" font-size="15.8" fill="#151515" textLength="8.5" lengthAdjust="spacingAndGlyphs" text-anchor="start">H</text>
<text x="336.8" y="59.0" font-size="15.8" fill="#f23645" textLength="43.7" lengthAdjust="spacingAndGlyphs" text-anchor="start">0.4560</text>
<text x="391.3" y="59.0" font-size="15.8" fill="#151515" textLength="6.0" lengthAdjust="spacingAndGlyphs" text-anchor="start">L</text>
<text x="397.7" y="59.0" font-size="15.8" fill="#f23645" textLength="44.6" lengthAdjust="spacingAndGlyphs" text-anchor="start">0.4135</text>
<text x="452.1" y="59.0" font-size="15.8" fill="#151515" textLength="7.9" lengthAdjust="spacingAndGlyphs" text-anchor="start">C</text>
<text x="460.7" y="59.0" font-size="15.8" fill="#f23645" textLength="43.5" lengthAdjust="spacingAndGlyphs" text-anchor="start">0.4269</text>
<text x="515.5" y="59.0" font-size="15.8" fill="#f23645" textLength="112.6" lengthAdjust="spacingAndGlyphs" text-anchor="start">−0.0295 (−6.46%)</text>
<text x="23.1" y="420.0" font-size="15.8" fill="#151515" textLength="19.2" lengthAdjust="spacingAndGlyphs" text-anchor="start">RSI</text>
<text x="48.8" y="420.0" font-size="15.8" fill="#151515" textLength="24.9" lengthAdjust="spacingAndGlyphs" text-anchor="start">(14,</text>
<text x="78.9" y="420.0" font-size="15.8" fill="#151515" textLength="38.8" lengthAdjust="spacingAndGlyphs" text-anchor="start">close)</text>
<text x="127.5" y="420.0" font-size="15.8" fill="#7e57c2" textLength="37.0" lengthAdjust="spacingAndGlyphs" text-anchor="start">36.39</text>
<text x="173.3" y="420.0" font-size="15.8" fill="#fdd835" textLength="37.4" lengthAdjust="spacingAndGlyphs" text-anchor="start">42.37</text>
<text x="23.1" y="602.0" font-size="15.8" fill="#151515" textLength="36.8" lengthAdjust="spacingAndGlyphs" text-anchor="start">MACD</text>
<text x="66.5" y="602.0" font-size="15.8" fill="#151515" textLength="24.6" lengthAdjust="spacingAndGlyphs" text-anchor="start">(12,</text>
<text x="97.1" y="602.0" font-size="15.8" fill="#151515" textLength="21.5" lengthAdjust="spacingAndGlyphs" text-anchor="start">26,</text>
<text x="122.8" y="602.0" font-size="15.8" fill="#151515" textLength="38.3" lengthAdjust="spacingAndGlyphs" text-anchor="start">close)</text>
<text x="171.6" y="602.0" font-size="15.8" fill="#ff5252" textLength="51.5" lengthAdjust="spacingAndGlyphs" text-anchor="start">−0.0022</text>
<text x="233.6" y="602.0" font-size="15.8" fill="#2962ff" textLength="51.5" lengthAdjust="spacingAndGlyphs" text-anchor="start">−0.0269</text>
<text x="295.4" y="602.0" font-size="15.8" fill="#ff6d00" textLength="52.1" lengthAdjust="spacingAndGlyphs" text-anchor="start">−0.0247</text>
<text x="1382.9" y="46.0" font-size="16" fill="#151515" textLength="46.3" lengthAdjust="spacingAndGlyphs" text-anchor="start">1.8000</text>
<text x="1382.9" y="87.0" font-size="16" fill="#151515" textLength="46.3" lengthAdjust="spacingAndGlyphs" text-anchor="start">1.6000</text>
<text x="1382.9" y="128.0" font-size="16" fill="#151515" textLength="46.3" lengthAdjust="spacingAndGlyphs" text-anchor="start">1.4000</text>
<text x="1382.9" y="170.0" font-size="16" fill="#151515" textLength="46.3" lengthAdjust="spacingAndGlyphs" text-anchor="start">1.2000</text>
<text x="1382.9" y="211.0" font-size="16" fill="#151515" textLength="46.3" lengthAdjust="spacingAndGlyphs" text-anchor="start">1.0000</text>
<text x="1382.9" y="252.0" font-size="16" fill="#151515" textLength="46.3" lengthAdjust="spacingAndGlyphs" text-anchor="start">0.8000</text>
<text x="1382.9" y="293.0" font-size="16" fill="#151515" textLength="46.3" lengthAdjust="spacingAndGlyphs" text-anchor="start">0.6000</text>
<text x="1382.9" y="376.0" font-size="16" fill="#151515" textLength="46.3" lengthAdjust="spacingAndGlyphs" text-anchor="start">0.2000</text>
<text x="1382.6" y="412.0" font-size="16" fill="#151515" textLength="38.6" lengthAdjust="spacingAndGlyphs" text-anchor="start">80.00</text>
<text x="1382.6" y="471.0" font-size="16" fill="#151515" textLength="38.6" lengthAdjust="spacingAndGlyphs" text-anchor="start">60.00</text>
<g clip-path="url(#cpAxM)">
<text x="1382.9" y="583.0" font-size="16" fill="#151515" textLength="46.3" lengthAdjust="spacingAndGlyphs" text-anchor="start">0.0100</text>
<text x="1382.9" y="651.0" font-size="16" fill="#151515" textLength="46.3" lengthAdjust="spacingAndGlyphs" text-anchor="start">0.0000</text>
</g>
<text x="1383.5" y="721.0" font-size="16" fill="#151515" textLength="53.1" lengthAdjust="spacingAndGlyphs" text-anchor="start">−0.0100</text>
<path d="M1373.5 292.5H1432Q1434.5 292.5 1434.5 295V310Q1434.5 312.5 1432 312.5H1373.5Z" fill="#fff" stroke="#f23645" stroke-width="1.25"/>
<text x="1383.4" y="308.0" font-size="16" fill="#f23645" textLength="46.0" lengthAdjust="spacingAndGlyphs" text-anchor="start">0.4730</text>
<path d="M1373 312H1446.5Q1449 312 1449 314.5V349.5Q1449 352 1446.5 352H1373Z" fill="#f23645"/>
<text x="1383.4" y="329.0" font-size="16" fill="#fff" textLength="46.0" lengthAdjust="spacingAndGlyphs" text-anchor="start">0.4269</text>
<text x="1383.4" y="347.0" font-size="16" fill="#fff" textLength="58.0" lengthAdjust="spacingAndGlyphs" text-anchor="start" fill-opacity="0.8">08:58:21</text>
<path d="M1373.5 493.5H1424Q1426.5 493.5 1426.5 496V511Q1426.5 513.5 1424 513.5H1373.5Z" fill="#fff" stroke="#fdd835" stroke-width="1.25"/>
<text x="1383.6" y="509.0" font-size="16" fill="#fdd835" textLength="38.0" lengthAdjust="spacingAndGlyphs" text-anchor="start">42.62</text>
<path d="M1373.5 514.5H1424Q1426.5 514.5 1426.5 517V532Q1426.5 534.5 1424 534.5H1373.5Z" fill="#fff" stroke="#7e57c2" stroke-width="1.25"/>
<text x="1383.6" y="530.0" font-size="16" fill="#7e57c2" textLength="38.0" lengthAdjust="spacingAndGlyphs" text-anchor="start">40.20</text>
<path d="M1373.5 643.5H1441Q1443.5 643.5 1443.5 646V661Q1443.5 663.5 1441 663.5H1373.5Z" fill="#fff" stroke="#ff5252" stroke-width="1.25"/>
<text x="1384.2" y="658.4" font-size="16" fill="#ff5252" textLength="52.8" lengthAdjust="spacingAndGlyphs" text-anchor="start">−0.0009</text>
<text x="164.0" y="781.0" font-size="15.4" fill="#151515" font-weight="bold" textLength="21.4" lengthAdjust="spacingAndGlyphs" text-anchor="start">Jul</text>
<text x="431.5" y="781.0" font-size="15.4" fill="#151515" font-weight="bold" textLength="26.1" lengthAdjust="spacingAndGlyphs" text-anchor="start">Aug</text>
<text x="701.3" y="781.0" font-size="15.4" fill="#151515" font-weight="bold" textLength="25.0" lengthAdjust="spacingAndGlyphs" text-anchor="start">Sep</text>
<text x="962.4" y="781.0" font-size="15.4" fill="#151515" font-weight="bold" textLength="24.3" lengthAdjust="spacingAndGlyphs" text-anchor="start">Oct</text>
<text x="1230.7" y="781.0" font-size="15.4" fill="#151515" font-weight="bold" textLength="26.3" lengthAdjust="spacingAndGlyphs" text-anchor="start">Nov</text>
<g fill="#111"><path d="M15.46 820.08H30.6V838.95H23.13V827.75H15.46Z"/><circle cx="36.8" cy="824.2" r="3.95"/><path d="M44.48 820.08H52.78L45.73 838.95H37.02Z"/></g>
<text x="61.3 75.1 83.6 98.7 113.7 119.6 135.8 152.7 170.5 176.8 192.4" y="838.9" font-size="26.7" font-weight="bold" fill="#111">TradingView</text>
</svg></body></html>
